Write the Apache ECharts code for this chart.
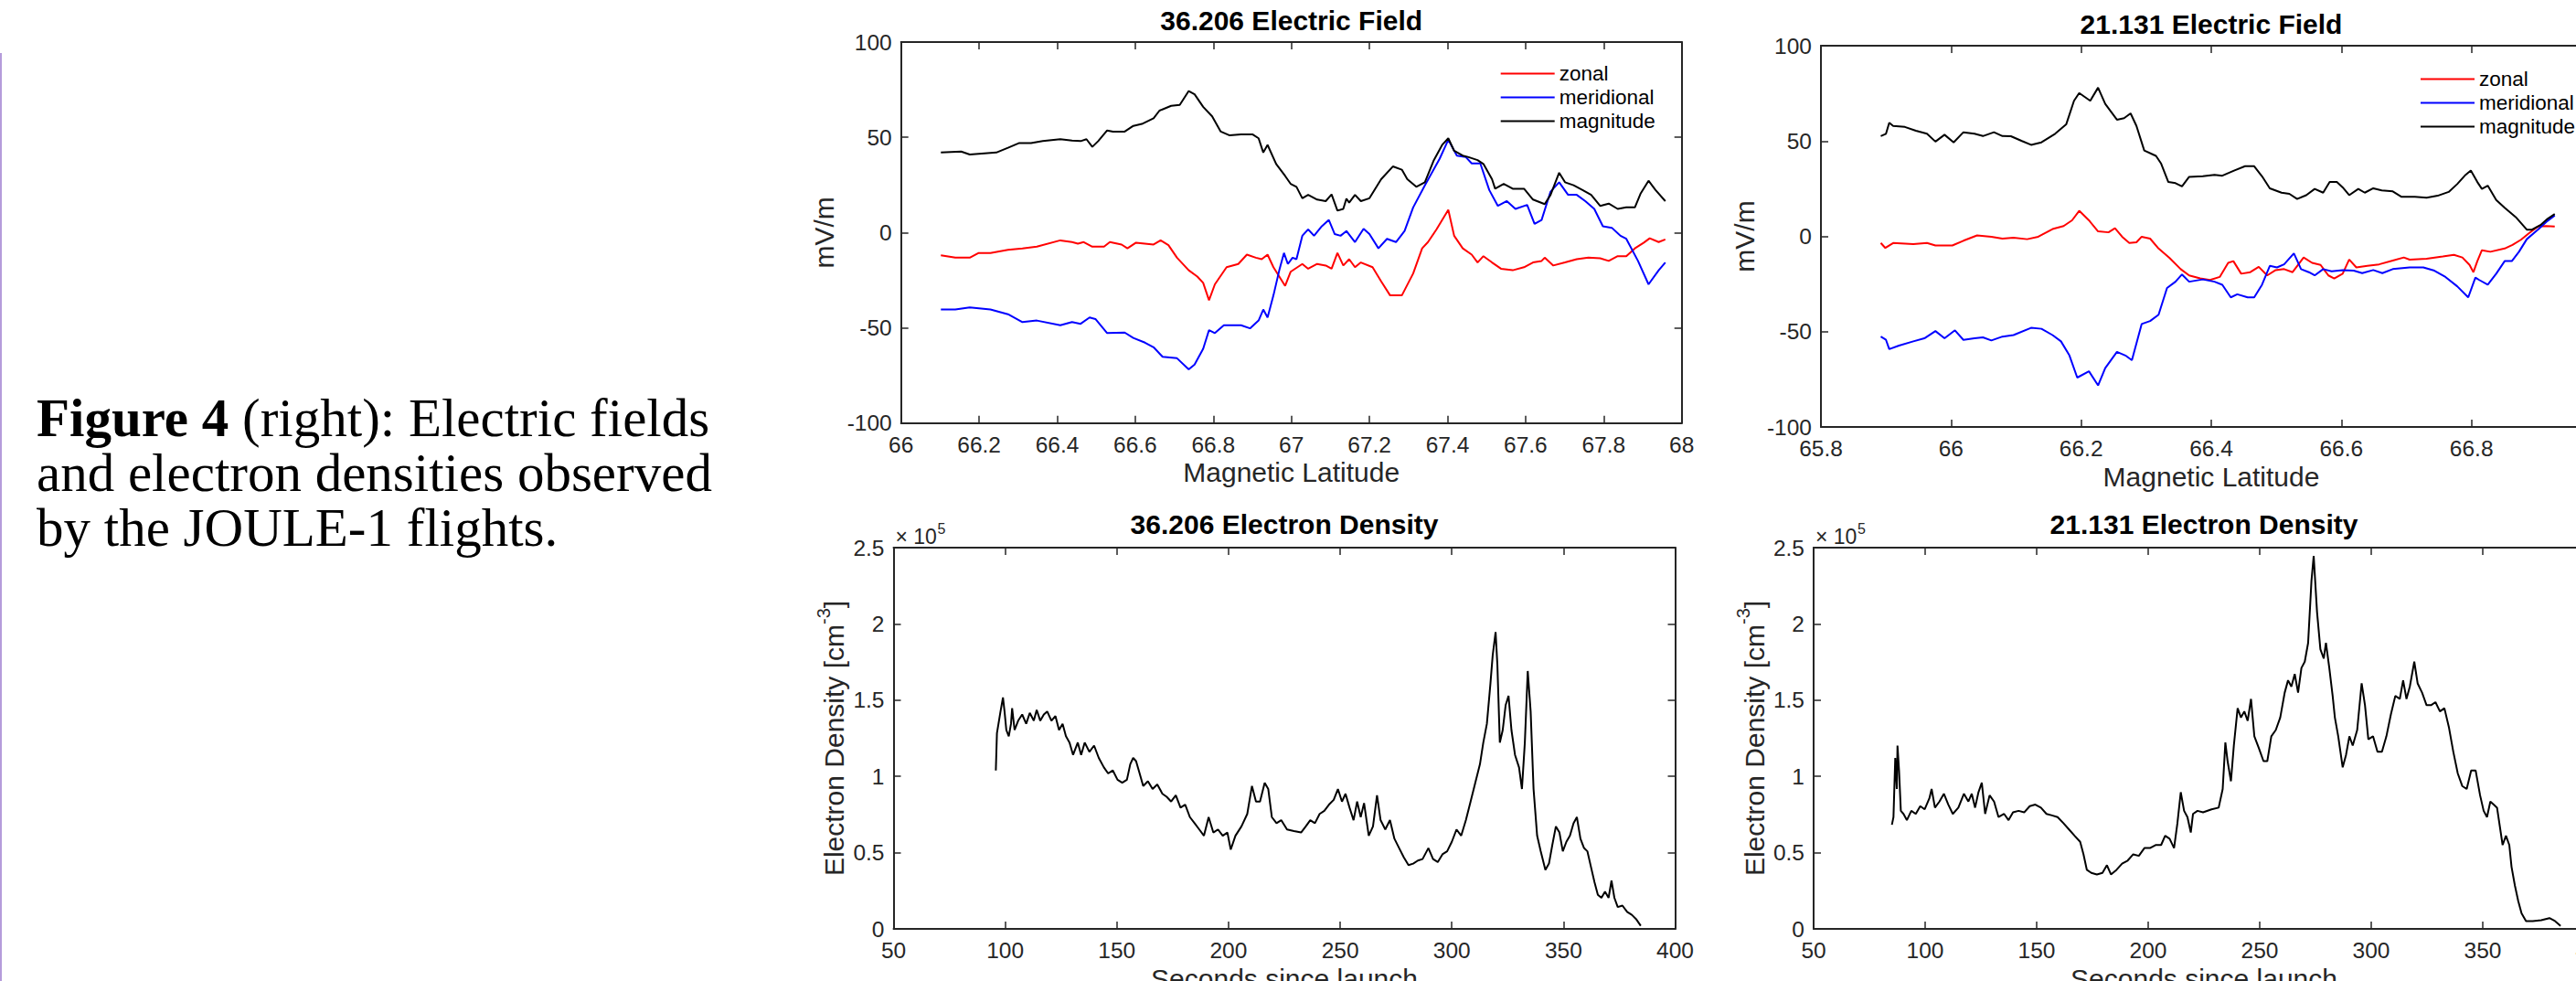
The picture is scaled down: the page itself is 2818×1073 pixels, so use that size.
<!DOCTYPE html>
<html>
<head>
<meta charset="utf-8">
<script src="https://cdn.jsdelivr.net/npm/echarts@6.0.0/dist/echarts.min.js"></script>
<style>
  html, body { margin: 0; padding: 0; background: #ffffff; overflow: hidden; }
  #chart { width: 2870px; height: 1073px; }
</style>
</head>
<body>
<div id="chart"></div>
<script>
// ---- JOULE-1 flight 36.206: electric field vs magnetic latitude [lat, mV/m] ----
const zonal36 = [[66.102,-11.9],[66.139,-13.2],[66.176,-13.2],[66.199,-10.7],[66.229,-10.7],[66.274,-9.1],[66.311,-8.3],[66.348,-7.4],[66.408,-4.1],[66.438,-5],[66.453,-5.8],[66.468,-5],[66.490,-7.4],[66.520,-7.4],[66.535,-5],[66.565,-6.3],[66.580,-8.3],[66.602,-5.3],[66.647,-6.3],[66.665,-4.1],[66.685,-6.6],[66.707,-13.2],[66.737,-19.8],[66.759,-23.1],[66.774,-26.4],[66.789,-35.5],[66.804,-27.2],[66.834,-18.2],[66.864,-16.5],[66.886,-11.6],[66.909,-13.2],[66.924,-14],[66.939,-11.6],[66.954,-18.2],[66.984,-28],[66.998,-20.6],[67.028,-16.5],[67.043,-19],[67.066,-16.5],[67.088,-17.3],[67.103,-19],[67.118,-10.7],[67.133,-17.3],[67.148,-14],[67.163,-18.2],[67.178,-15.7],[67.208,-18.2],[67.230,-25.6],[67.253,-33],[67.283,-33],[67.312,-21.5],[67.335,-8.3],[67.350,-5],[67.372,1.7],[67.402,11.9],[67.417,-1.7],[67.439,-8.3],[67.462,-11.6],[67.477,-15.7],[67.492,-12.4],[67.514,-15.7],[67.537,-19],[67.567,-19.8],[67.596,-18.2],[67.619,-15.7],[67.641,-14.9],[67.649,-13.2],[67.671,-17.3],[67.701,-15.7],[67.731,-14],[67.761,-13.2],[67.791,-13.5],[67.813,-14.9],[67.836,-12.4],[67.858,-12.4],[67.880,-8.3],[67.903,-5.3],[67.918,-3],[67.941,-5],[67.958,-3.6]];
const meridional36 = [[66.102,-40.4],[66.139,-40.4],[66.176,-39.3],[66.229,-40.4],[66.274,-42.9],[66.311,-47],[66.348,-46.2],[66.408,-48.7],[66.438,-47],[66.460,-47.9],[66.483,-44.6],[66.498,-45.4],[66.528,-52.8],[66.573,-52.5],[66.595,-55.3],[66.625,-57.8],[66.647,-60.2],[66.670,-65.2],[66.707,-66],[66.737,-71.8],[66.752,-69.3],[66.774,-61],[66.789,-51.2],[66.804,-52.8],[66.827,-48.7],[66.871,-48.7],[66.894,-50.3],[66.916,-46.2],[66.928,-40.4],[66.939,-44.6],[66.954,-33],[66.969,-19.8],[66.981,-10.7],[66.991,-16.5],[67.003,-13.2],[67.013,-14],[67.028,-1.7],[67.043,1.7],[67.058,-1.7],[67.078,3.3],[67.096,6.6],[67.111,-0.8],[67.126,-1.7],[67.141,0.8],[67.163,-5],[67.185,2],[67.200,-0.8],[67.223,-8.3],[67.245,-3.3],[67.268,-5],[67.290,0.8],[67.312,13.2],[67.342,24.8],[67.380,38.8],[67.402,48.7],[67.424,40.4],[67.447,39.6],[67.462,36.3],[67.484,36.3],[67.507,22.3],[67.529,14],[67.552,16.5],[67.574,12.4],[67.604,14.5],[67.623,4.5],[67.641,6.6],[67.664,21.5],[67.686,26.4],[67.709,19.8],[67.731,19.8],[67.753,16.5],[67.776,12.4],[67.798,3.3],[67.821,2.5],[67.843,-1.7],[67.858,-3.3],[67.888,-14.9],[67.915,-27.2],[67.941,-19.8],[67.958,-15.7]];
const magnitude36 = [[66.102,42],[66.154,42.5],[66.176,41],[66.244,42],[66.274,44.5],[66.303,47],[66.333,47],[66.363,48],[66.408,49],[66.438,48.3],[66.460,48],[66.475,49],[66.490,45],[66.505,48],[66.528,53.6],[66.543,53],[66.573,53],[66.595,56],[66.617,57],[66.647,60],[66.662,64],[66.692,66.5],[66.714,67],[66.737,74.3],[66.752,72.6],[66.774,66],[66.797,61],[66.819,53],[66.842,51],[66.871,51.5],[66.901,51.5],[66.916,49.5],[66.928,42],[66.939,46],[66.961,36],[66.984,29.7],[66.998,25.6],[67.013,24],[67.028,18],[67.043,19.8],[67.066,17.3],[67.088,16.5],[67.103,20],[67.118,11.5],[67.133,12.4],[67.141,17.8],[67.148,15.7],[67.163,19.8],[67.178,16.5],[67.200,18],[67.230,28],[67.260,34.7],[67.283,33],[67.297,28],[67.320,24],[67.342,26.4],[67.365,38],[67.387,46.2],[67.402,49.5],[67.417,42.9],[67.439,40.4],[67.454,39.6],[67.477,38],[67.492,36],[67.514,28],[67.522,23],[67.544,25.6],[67.567,23],[67.596,23],[67.619,17.3],[67.649,14.9],[67.664,19.8],[67.686,31.4],[67.701,26.4],[67.723,24.8],[67.746,22.3],[67.768,19.8],[67.791,14],[67.813,15.2],[67.836,12.4],[67.858,13.2],[67.880,13.2],[67.895,20.6],[67.915,27.2],[67.933,22.3],[67.958,16.5]];

// ---- JOULE-1 flight 21.131: electric field vs magnetic latitude [lat, mV/m] ----
const zonal21 = [[65.892,-3.5],[65.899,-6.1],[65.911,-3.5],[65.942,-4.1],[65.963,-3.5],[65.976,-4.8],[66.002,-4.8],[66.019,-2.3],[66.040,0.5],[66.062,-0.2],[66.079,-1.2],[66.096,-0.7],[66.117,-1.5],[66.134,-0.2],[66.156,3.8],[66.173,5.4],[66.186,8.4],[66.197,13.4],[66.212,8.4],[66.226,2.6],[66.242,2.1],[66.252,4.3],[66.263,-0.2],[66.274,-3.5],[66.285,-3.1],[66.293,-0.2],[66.306,-1.2],[66.319,-6.4],[66.336,-11.4],[66.353,-17.2],[66.366,-20.5],[66.383,-22.1],[66.398,-22.9],[66.413,-21.3],[66.426,-13.9],[66.434,-13],[66.446,-19.6],[66.460,-18.8],[66.473,-16],[66.486,-20.5],[66.499,-17.7],[66.512,-17.2],[66.525,-18.8],[66.542,-11.1],[66.555,-13.9],[66.568,-15],[66.580,-20.5],[66.589,-22.1],[66.602,-19.6],[66.612,-12.2],[66.623,-16.3],[66.640,-15.5],[66.658,-14.7],[66.679,-12.7],[66.696,-11.1],[66.705,-12.2],[66.731,-11.7],[66.756,-10.6],[66.773,-9.7],[66.786,-11.1],[66.797,-15],[66.803,-18.8],[66.809,-13],[66.816,-7.3],[66.829,-8.1],[66.851,-6.4],[66.863,-4.5],[66.876,-1.8],[66.889,1.8],[66.902,5.1],[66.915,5.4],[66.928,5.1]];
const meridional21 = [[65.892,-52.6],[65.900,-54.3],[65.905,-59.2],[65.920,-57.3],[65.942,-55.1],[65.959,-53.5],[65.976,-49.7],[65.990,-53.5],[66.006,-49.3],[66.019,-54.3],[66.036,-53.5],[66.049,-53],[66.062,-54.6],[66.079,-52.6],[66.096,-51.8],[66.123,-48],[66.139,-48.5],[66.156,-51.8],[66.169,-55.1],[66.182,-62.5],[66.194,-74.1],[66.212,-70.8],[66.226,-78.2],[66.237,-69.1],[66.255,-60.6],[66.268,-62.5],[66.278,-65],[66.293,-46],[66.306,-44.4],[66.319,-41.1],[66.332,-27.1],[66.345,-23.8],[66.355,-20],[66.366,-23.8],[66.387,-22.6],[66.405,-23.8],[66.417,-25.4],[66.430,-32],[66.440,-30.4],[66.456,-32],[66.466,-32],[66.478,-25.4],[66.490,-15.5],[66.501,-16.3],[66.512,-14.7],[66.527,-8.9],[66.538,-17.2],[66.550,-18.8],[66.559,-20.5],[66.572,-17.2],[66.585,-18.3],[66.602,-17.7],[66.619,-18],[66.632,-19.3],[66.649,-17.7],[66.663,-19.3],[66.679,-17.2],[66.705,-16.3],[66.726,-16.3],[66.743,-18],[66.760,-21.3],[66.778,-26.2],[66.795,-32],[66.806,-21.6],[66.812,-22.9],[66.825,-25.4],[66.838,-19.6],[66.851,-13],[66.862,-13],[66.873,-8.1],[66.885,-1.5],[66.902,3.5],[66.915,7.6],[66.928,10.9]];
const magnitude21 = [[65.892,52.6],[65.900,53.8],[65.905,59.6],[65.911,57.9],[65.929,57.4],[65.946,55.4],[65.963,53.8],[65.976,49.7],[65.990,53.3],[66.004,49.3],[66.019,54.6],[66.036,53.8],[66.049,52.6],[66.066,54.6],[66.079,52.6],[66.092,52.5],[66.109,50],[66.123,48],[66.139,49.3],[66.160,53.8],[66.177,58.7],[66.189,71.1],[66.197,75.2],[66.214,71.1],[66.226,78],[66.237,69.5],[66.255,61.2],[66.266,62],[66.276,64.5],[66.285,57.9],[66.297,45],[66.315,42.2],[66.323,38.1],[66.334,28.5],[66.345,27.9],[66.355,26.2],[66.366,31.2],[66.387,31.5],[66.405,32.3],[66.417,31.8],[66.435,34.5],[66.452,36.8],[66.466,36.8],[66.478,31.5],[66.490,25.2],[66.508,22.9],[66.520,22.3],[66.532,19.6],[66.546,21.6],[66.559,24.9],[66.572,22.9],[66.582,28.5],[66.593,28.5],[66.602,25.7],[66.612,21.6],[66.626,24.9],[66.636,22.9],[66.649,25.2],[66.662,24.1],[66.679,23.6],[66.692,20.8],[66.713,20.8],[66.731,20.3],[66.748,21.3],[66.765,23.3],[66.778,27.4],[66.791,32.3],[66.799,34.5],[66.809,28.5],[66.816,24.9],[66.825,26.6],[66.838,19.1],[66.851,15],[66.868,10.1],[66.885,3.5],[66.893,3.5],[66.906,5.9],[66.917,9.2],[66.928,11.7]];

// ---- electron density vs seconds since launch [s, cm^-3] ----
const density36 = [[95.8,1.039e5],[96.3,1.284e5],[97.9,1.426e5],[99.0,1.518e5],[99.7,1.426e5],[100.5,1.304e5],[101.6,1.263e5],[102.6,1.345e5],[103.1,1.447e5],[104.2,1.304e5],[105.8,1.365e5],[107.6,1.406e5],[109.4,1.345e5],[111.0,1.416e5],[112.8,1.365e5],[114.1,1.436e5],[115.7,1.365e5],[117.3,1.406e5],[118.8,1.426e5],[120.7,1.365e5],[122.5,1.396e5],[124.1,1.304e5],[125.7,1.345e5],[127.2,1.263e5],[128.8,1.222e5],[130.4,1.141e5],[132.5,1.222e5],[134.0,1.141e5],[135.6,1.222e5],[137.7,1.161e5],[139.8,1.202e5],[141.9,1.121e5],[144.2,1.059e5],[146.1,1.019e5],[148.2,1.039e5],[150.3,0.978e5],[152.4,0.958e5],[154.5,0.978e5],[156.0,1.080e5],[157.3,1.121e5],[158.6,1.100e5],[160.2,1.019e5],[161.8,0.937e5],[163.9,0.968e5],[166.0,0.917e5],[168.1,0.947e5],[170.4,0.886e5],[172.3,0.866e5],[174.3,0.835e5],[176.4,0.876e5],[178.5,0.795e5],[180.6,0.815e5],[182.7,0.733e5],[184.8,0.693e5],[186.9,0.652e5],[189.0,0.611e5],[191.1,0.733e5],[193.2,0.632e5],[195.3,0.652e5],[197.4,0.611e5],[199.5,0.632e5],[201.0,0.520e5],[203.1,0.611e5],[205.8,0.672e5],[208.4,0.754e5],[210.5,0.937e5],[212.3,0.835e5],[214.1,0.835e5],[216.2,0.958e5],[217.8,0.917e5],[219.4,0.733e5],[221.5,0.693e5],[223.6,0.713e5],[226.2,0.652e5],[229.3,0.642e5],[232.5,0.632e5],[234.6,0.672e5],[236.6,0.713e5],[238.7,0.693e5],[240.8,0.754e5],[242.9,0.774e5],[245.0,0.815e5],[247.1,0.846e5],[249.0,0.917e5],[250.8,0.835e5],[252.4,0.886e5],[254.2,0.795e5],[256.0,0.713e5],[257.6,0.835e5],[259.2,0.733e5],[260.7,0.825e5],[262.8,0.611e5],[264.7,0.672e5],[266.5,0.876e5],[268.1,0.713e5],[270.2,0.652e5],[272.3,0.713e5],[274.3,0.591e5],[276.4,0.530e5],[278.5,0.469e5],[280.6,0.418e5],[282.7,0.428e5],[284.8,0.448e5],[286.9,0.458e5],[289.5,0.530e5],[291.6,0.458e5],[293.7,0.438e5],[295.8,0.489e5],[297.9,0.509e5],[300.0,0.571e5],[302.1,0.652e5],[304.2,0.611e5],[306.3,0.713e5],[308.4,0.835e5],[310.5,0.958e5],[312.6,1.080e5],[314.1,1.222e5],[315.7,1.345e5],[317.3,1.610e5],[318.3,1.793e5],[319.6,1.946e5],[320.4,1.732e5],[321.5,1.222e5],[322.8,1.304e5],[324.1,1.467e5],[325.4,1.528e5],[326.7,1.304e5],[328.3,1.141e5],[330.1,1.059e5],[331.4,0.917e5],[332.7,1.222e5],[334.0,1.691e5],[335.3,1.426e5],[336.6,0.917e5],[338.2,0.611e5],[339.8,0.509e5],[341.9,0.387e5],[343.5,0.428e5],[345.0,0.550e5],[346.6,0.672e5],[348.2,0.632e5],[349.7,0.509e5],[351.3,0.571e5],[352.9,0.611e5],[354.5,0.693e5],[356.0,0.733e5],[357.6,0.591e5],[359.2,0.530e5],[360.7,0.509e5],[362.3,0.407e5],[363.9,0.306e5],[365.4,0.224e5],[367.0,0.204e5],[368.6,0.245e5],[370.2,0.204e5],[371.5,0.316e5],[372.8,0.204e5],[374.3,0.143e5],[376.4,0.153e5],[378.5,0.112e5],[380.6,0.092e5],[382.7,0.061e5],[384.6,0.020e5]];
const density21 = [[85.1,0.683e5],[85.8,0.733e5],[86.6,1.121e5],[87.3,0.917e5],[87.6,1.202e5],[88.3,1.039e5],[89.1,0.774e5],[90.3,0.754e5],[91.8,0.713e5],[93.8,0.774e5],[95.8,0.754e5],[97.8,0.805e5],[99.8,0.784e5],[101.9,0.856e5],[102.9,0.917e5],[104.4,0.795e5],[106.4,0.835e5],[108.4,0.886e5],[110.4,0.815e5],[112.4,0.754e5],[114.9,0.795e5],[117.4,0.886e5],[119.4,0.835e5],[120.9,0.886e5],[122.4,0.795e5],[123.9,0.896e5],[125.4,0.958e5],[126.9,0.754e5],[128.9,0.876e5],[130.9,0.835e5],[132.9,0.733e5],[135.4,0.754e5],[137.4,0.713e5],[139.4,0.764e5],[141.9,0.774e5],[144.4,0.764e5],[146.9,0.805e5],[149.4,0.815e5],[151.9,0.795e5],[154.4,0.754e5],[156.9,0.744e5],[159.4,0.733e5],[162.0,0.693e5],[164.5,0.652e5],[167.0,0.611e5],[169.5,0.571e5],[171.0,0.489e5],[172.5,0.387e5],[174.5,0.367e5],[177.0,0.357e5],[179.5,0.367e5],[181.5,0.418e5],[183.3,0.357e5],[185.8,0.387e5],[188.3,0.428e5],[190.8,0.448e5],[193.3,0.489e5],[195.8,0.479e5],[198.3,0.530e5],[200.8,0.530e5],[203.3,0.550e5],[205.8,0.550e5],[207.6,0.611e5],[209.6,0.591e5],[211.6,0.530e5],[213.1,0.693e5],[214.6,0.896e5],[216.1,0.774e5],[217.6,0.733e5],[219.1,0.632e5],[220.1,0.754e5],[222.1,0.774e5],[224.6,0.764e5],[228.4,0.784e5],[231.6,0.795e5],[233.4,0.917e5],[234.6,1.222e5],[235.6,1.100e5],[237.1,0.968e5],[238.4,1.202e5],[240.1,1.447e5],[241.6,1.386e5],[243.1,1.426e5],[244.6,1.365e5],[246.1,1.508e5],[247.6,1.263e5],[249.7,1.182e5],[251.7,1.100e5],[253.4,1.100e5],[255.2,1.263e5],[257.2,1.304e5],[259.2,1.386e5],[261.2,1.549e5],[262.7,1.630e5],[264.2,1.589e5],[265.7,1.671e5],[267.2,1.549e5],[268.7,1.711e5],[270.2,1.752e5],[271.7,1.875e5],[273.2,2.282e5],[274.2,2.445e5],[275.7,2.078e5],[277.2,1.834e5],[278.7,1.773e5],[279.7,1.875e5],[281.2,1.711e5],[282.7,1.528e5],[283.7,1.386e5],[285.2,1.263e5],[287.2,1.059e5],[288.7,1.141e5],[290.2,1.263e5],[291.7,1.202e5],[293.7,1.304e5],[295.7,1.610e5],[297.2,1.467e5],[298.7,1.243e5],[300.8,1.263e5],[302.8,1.161e5],[304.8,1.161e5],[306.8,1.263e5],[308.8,1.406e5],[310.8,1.528e5],[312.8,1.508e5],[314.3,1.630e5],[315.8,1.508e5],[317.3,1.589e5],[319.3,1.752e5],[320.8,1.610e5],[322.8,1.549e5],[324.8,1.467e5],[326.8,1.467e5],[328.8,1.487e5],[330.8,1.426e5],[332.8,1.447e5],[334.8,1.324e5],[336.8,1.161e5],[338.8,1.019e5],[340.8,0.937e5],[342.8,0.917e5],[344.8,1.039e5],[346.8,1.039e5],[348.8,0.876e5],[350.4,0.774e5],[351.9,0.733e5],[353.4,0.835e5],[354.9,0.815e5],[356.4,0.795e5],[358.9,0.550e5],[360.4,0.611e5],[361.9,0.550e5],[362.9,0.407e5],[364.4,0.285e5],[365.9,0.183e5],[367.4,0.102e5],[369.4,0.051e5],[372.4,0.051e5],[376.2,0.057e5],[379.9,0.071e5],[382.4,0.051e5],[384.9,0.020e5]];

// ---- axis ranges and tick steps ----
const fieldRange = [-100, 100], fieldStep = 50;
const lat36Range = [66, 68], lat21Range = [65.8, 67.0], latStep = 0.2;
const densityRange = [0, 2.5e5], densityStep = 0.5e5;
const timeRange = [50, 400], timeStep = 50;
const fieldNames = ['zonal', 'meridional', 'magnitude'];
const titles = ['36.206 Electric Field', '21.131 Electric Field', '36.206 Electron Density', '21.131 Electron Density'];
const caption = ['Figure 4', ' (right): Electric fields', 'and electron densities observed', 'by the JOULE-1 flights.'];

// ---- layout ----
const AX = '#262626';
const SANS = '"Liberation Sans", Arial, Helvetica, sans-serif';
const SERIF = '"Liberation Serif", "Times New Roman", Times, serif';
const TICK_FONT = 24.5, LABEL_FONT = 30;
const panels = [
  { left: 985.7, top: 46, width: 854, height: 416.7 },
  { left: 1992, top: 50, width: 854, height: 417 },
  { left: 977.5, top: 599, width: 855, height: 417 },
  { left: 1984, top: 599, width: 854, height: 417 }
];

const fmtLat = v => String(Math.round(v * 10) / 10);
const fmtDensity = v => String(Math.round(v / 1e4) / 10);

function axisCommon(range, step) {
  return {
    type: 'value', min: range[0], max: range[1], interval: step,
    axisLine: { show: true, onZero: false, lineStyle: { color: AX, width: 2 } },
    axisTick: { show: true, inside: true, length: 8, lineStyle: { color: AX, width: 1.5 } },
    splitLine: { show: false }
  };
}

const xAxes = [], yAxes = [];
function addPanelAxes(gi, xr, xs, xfmt, xname, yr, ys, yfmt, yname, ynameGap, yRich) {
  xAxes.push(Object.assign(axisCommon(xr, xs), {
    gridIndex: gi, position: 'bottom',
    axisLabel: { margin: 11, fontSize: TICK_FONT, color: AX, fontFamily: SANS, formatter: xfmt },
    name: xname, nameLocation: 'middle', nameGap: 39,
    nameTextStyle: { fontSize: LABEL_FONT, color: AX, fontFamily: SANS }
  }));
  xAxes.push(Object.assign(axisCommon(xr, xs), {
    gridIndex: gi, position: 'top', axisLabel: { show: false }
  }));
  yAxes.push(Object.assign(axisCommon(yr, ys), {
    gridIndex: gi, position: 'left',
    axisLabel: { margin: 10, fontSize: TICK_FONT, color: AX, fontFamily: SANS, formatter: yfmt },
    name: yname, nameLocation: 'middle', nameGap: ynameGap,
    nameTextStyle: Object.assign({ fontSize: LABEL_FONT, color: AX, fontFamily: SANS }, yRich ? { rich: yRich } : {})
  }));
  yAxes.push(Object.assign(axisCommon(yr, ys), {
    gridIndex: gi, position: 'right', axisLabel: { show: false }
  }));
}

// superscript exponent in the density axis title
const densityRich = {
  t: { fontSize: LABEL_FONT, color: AX, fontFamily: SANS, lineHeight: 37, verticalAlign: 'bottom' },
  s: { fontSize: 20, color: AX, fontFamily: SANS, lineHeight: 20, verticalAlign: 'top' }
};
const densityName = '{t|Electron Density [cm}{s|-3}{t|]}';

addPanelAxes(0, lat36Range, latStep, fmtLat, 'Magnetic Latitude', fieldRange, fieldStep, null, 'mV/m', 69, null);
addPanelAxes(1, lat21Range, latStep, fmtLat, 'Magnetic Latitude', fieldRange, fieldStep, null, 'mV/m', 69, null);
addPanelAxes(2, timeRange, timeStep, null, 'Seconds since launch', densityRange, densityStep, fmtDensity, densityName, 50, densityRich);
addPanelAxes(3, timeRange, timeStep, null, 'Seconds since launch', densityRange, densityStep, fmtDensity, densityName, 50, densityRich);

function lineSeries(name, data, color, panel) {
  return {
    type: 'line', name, data, color,
    xAxisIndex: panel * 2, yAxisIndex: panel * 2,
    showSymbol: false, symbol: 'none', silent: true,
    lineStyle: { color, width: 2 }, itemStyle: { color },
    emphasis: { disabled: true }, animation: false
  };
}

const RED = '#ff0000', BLUE = '#0000ff', BLACK = '#000000';
const series = [
  lineSeries(fieldNames[0], zonal36, RED, 0),
  lineSeries(fieldNames[1], meridional36, BLUE, 0),
  lineSeries(fieldNames[2], magnitude36, BLACK, 0),
  lineSeries(fieldNames[0], zonal21, RED, 1),
  lineSeries(fieldNames[1], meridional21, BLUE, 1),
  lineSeries(fieldNames[2], magnitude21, BLACK, 1),
  lineSeries('36.206', density36, BLACK, 2),
  lineSeries('21.131', density21, BLACK, 3)
];

function legendAt(left, top) {
  return {
    orient: 'vertical', left, top, padding: 0, data: fieldNames,
    icon: 'rect', itemWidth: 59, itemHeight: 2, itemGap: 3,
    selectedMode: false,
    textStyle: { fontSize: 22.5, lineHeight: 22, color: '#000', fontFamily: SANS }
  };
}

const titleTops = [7.7, 11.7, 558.7, 558.7];
const title = titles.map((t, i) => ({
  text: t, left: panels[i].left + panels[i].width / 2, top: titleTops[i],
  textAlign: 'center', padding: 0,
  textStyle: { fontSize: 30, fontWeight: 'bold', color: '#000', fontFamily: SANS }
}));

// "×10^5" multiplier above each density axis
function exponentLabel(panel) {
  const p = panels[panel];
  return [
    { type: 'text', x: p.left + 2, y: p.top - 1, silent: true,
      style: { text: '× 10', fontFamily: SANS, fontSize: 23, fill: AX, verticalAlign: 'bottom' } },
    { type: 'text', x: p.left + 48, y: p.top - 12.5, silent: true,
      style: { text: '5', fontFamily: SANS, fontSize: 16, fill: AX, verticalAlign: 'bottom' } }
  ];
}

const graphic = [
  { type: 'line', silent: true, shape: { x1: 1, y1: 58, x2: 1, y2: 1073 },
    style: { stroke: '#b59cdb', lineWidth: 2 } },
  { type: 'text', x: 40, y: 427, silent: true,
    style: {
      text: '{b|' + caption[0] + '}' + caption[1] + '\n' + caption[2] + '\n' + caption[3],
      fontFamily: SERIF, fontSize: 59, lineHeight: 60, fill: '#000', verticalAlign: 'top',
      rich: { b: { fontFamily: SERIF, fontSize: 59, fontWeight: 'bold', lineHeight: 60, fill: '#000' } }
    } }
].concat(exponentLabel(2), exponentLabel(3));

const chart = echarts.init(document.getElementById('chart'), null, { renderer: 'svg' });
chart.setOption({
  animation: false,
  backgroundColor: '#ffffff',
  textStyle: { fontFamily: SANS },
  title,
  legend: [legendAt(1641.7, 69), legendAt(2648, 75)],
  grid: panels.map(p => Object.assign({ outerBoundsMode: 'none', containLabel: false }, p)),
  xAxis: xAxes,
  yAxis: yAxes,
  series,
  graphic
});
</script>
</body>
</html>
